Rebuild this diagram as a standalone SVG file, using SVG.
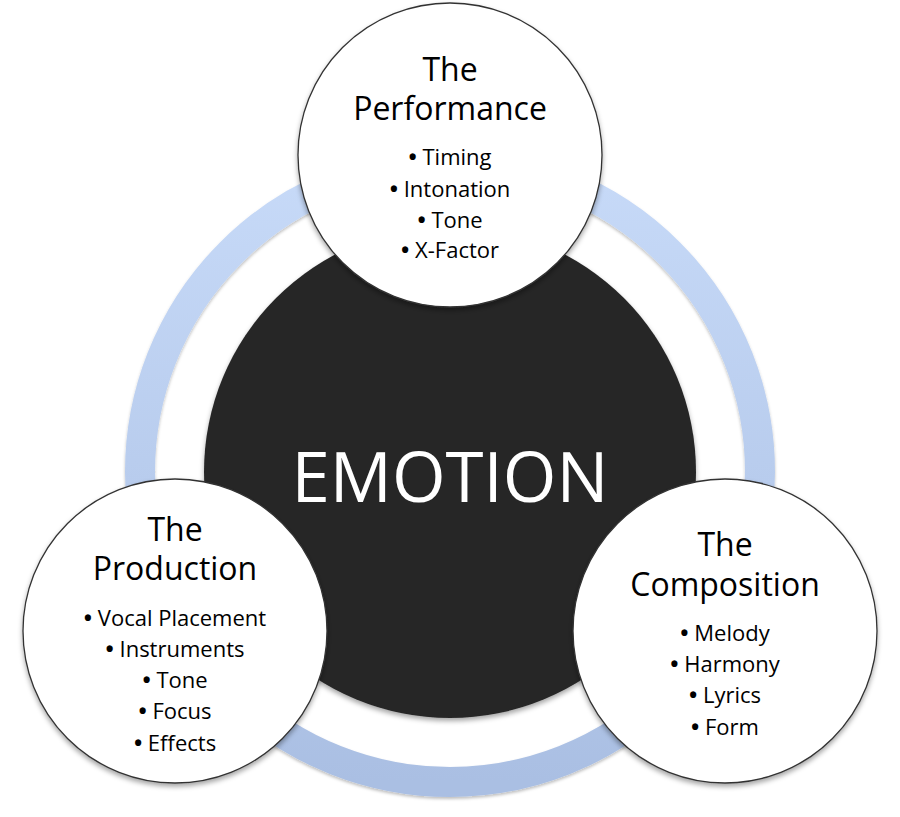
<svg xmlns="http://www.w3.org/2000/svg" width="900" height="817" viewBox="0 0 900 817">
  <defs>
    <linearGradient id="ringGrad" x1="0" y1="0" x2="0" y2="1">
      <stop offset="0" stop-color="#c7daf8"/>
      <stop offset="1" stop-color="#aabfe3"/>
    </linearGradient>
    <filter id="shadow" x="-20%" y="-20%" width="140%" height="140%">
      <feDropShadow dx="0" dy="3" stdDeviation="2.5" flood-color="#000" flood-opacity="0.35"/>
    </filter>
    <filter id="ringShadow" x="-10%" y="-10%" width="120%" height="120%">
      <feDropShadow dx="0" dy="2" stdDeviation="1.5" flood-color="#000" flood-opacity="0.25"/>
    </filter>
  </defs>
  <style>
    .node { fill: #ffffff; stroke: #333333; stroke-width: 1.3; }
    .title { font-family: "Open Sans", "Liberation Sans", sans-serif; font-size: 32px; fill: #000; text-anchor: middle; }
    .item { font-family: "Open Sans", "Liberation Sans", sans-serif; font-size: 22px; fill: #000; text-anchor: middle; }
    .b { font-weight: bold; }
    .big { font-family: "Open Sans", "Liberation Sans", sans-serif; font-size: 69px; fill: #ffffff; text-anchor: middle; }
  </style>
  <rect x="0" y="0" width="900" height="817" fill="#ffffff"/>

  <g id="connectors">
    <circle id="ring" cx="450" cy="472" r="310" fill="none" stroke="url(#ringGrad)" stroke-width="30" filter="url(#ringShadow)"/>
  </g>

  <g id="emotion">
    <circle cx="450" cy="472" r="246" fill="#272727" filter="url(#shadow)"/>
    <text class="big" x="450" y="502">EMOTION</text>
  </g>

  <g id="performance">
    <circle class="node" cx="450" cy="155" r="152" filter="url(#shadow)"/>
    <text class="title"><tspan x="450" y="81">The</tspan><tspan x="450" y="120">Performance</tspan></text>
    <text class="item" x="450" y="165"><tspan class="b">•</tspan> Timing</text>
    <text class="item" x="450" y="197"><tspan class="b">•</tspan> Intonation</text>
    <text class="item" x="450" y="228"><tspan class="b">•</tspan> Tone</text>
    <text class="item" x="450" y="258"><tspan class="b">•</tspan> X-Factor</text>
  </g>

  <g id="production">
    <circle class="node" cx="175" cy="631" r="152" filter="url(#shadow)"/>
    <text class="title"><tspan x="175" y="541">The</tspan><tspan x="175" y="580">Production</tspan></text>
    <text class="item" x="175" y="626"><tspan class="b">•</tspan> Vocal Placement</text>
    <text class="item" x="175" y="657"><tspan class="b">•</tspan> Instruments</text>
    <text class="item" x="175" y="688"><tspan class="b">•</tspan> Tone</text>
    <text class="item" x="175" y="719"><tspan class="b">•</tspan> Focus</text>
    <text class="item" x="175" y="751"><tspan class="b">•</tspan> Effects</text>
  </g>

  <g id="composition">
    <circle class="node" cx="725" cy="631" r="152" filter="url(#shadow)"/>
    <text class="title"><tspan x="725" y="556">The</tspan><tspan x="725" y="596">Composition</tspan></text>
    <text class="item" x="725" y="641"><tspan class="b">•</tspan> Melody</text>
    <text class="item" x="725" y="672"><tspan class="b">•</tspan> Harmony</text>
    <text class="item" x="725" y="703"><tspan class="b">•</tspan> Lyrics</text>
    <text class="item" x="725" y="735"><tspan class="b">•</tspan> Form</text>
  </g>
</svg>
